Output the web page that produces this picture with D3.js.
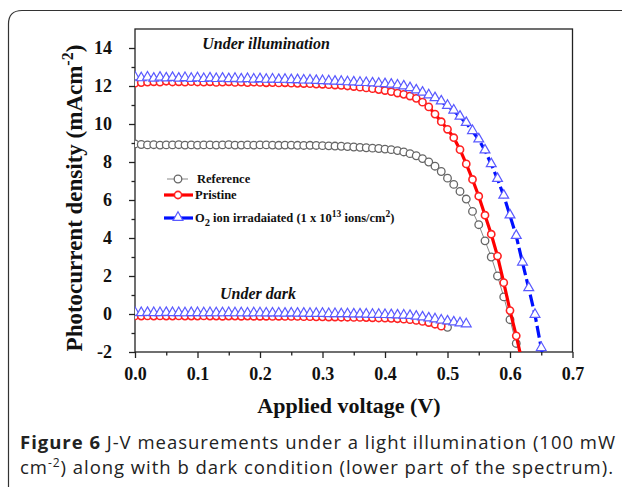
<!DOCTYPE html>
<html>
<head>
<meta charset="utf-8">
<script src="https://cdn.jsdelivr.net/npm/d3@7"></script>
<style>
  body { margin: 0; background: #fff; }
  svg { display: block; }
</style>
</head>
<body>
<svg id="chart" width="622" height="487"></svg>
<script>
// --- data ---

const voltage = [0.00, 0.01, 0.02, 0.03, 0.04, 0.05, 0.06, 0.07, 0.08, 0.09,
  0.10, 0.11, 0.12, 0.13, 0.14, 0.15, 0.16, 0.17, 0.18, 0.19,
  0.20, 0.21, 0.22, 0.23, 0.24, 0.25, 0.26, 0.27, 0.28, 0.29,
  0.30, 0.31, 0.32, 0.33, 0.34, 0.35, 0.36, 0.37, 0.38, 0.39,
  0.40, 0.41, 0.42, 0.43, 0.44, 0.45, 0.46, 0.47, 0.48, 0.49,
  0.50, 0.51, 0.52, 0.53, 0.54, 0.55, 0.56, 0.57, 0.58, 0.59,
  0.60, 0.61, 0.62, 0.63, 0.64, 0.65, 0.66];

// under illumination
const refLight = [8.95, 8.92, 8.90, 8.91, 8.89, 8.90, 8.90, 8.91, 8.89, 8.90,
  8.89, 8.90, 8.90, 8.89, 8.90, 8.91, 8.89, 8.89, 8.90, 8.89,
  8.90, 8.90, 8.89, 8.88, 8.89, 8.89, 8.88, 8.87, 8.88, 8.87,
  8.86, 8.85, 8.84, 8.83, 8.81, 8.79, 8.77, 8.75, 8.73, 8.71,
  8.68, 8.65, 8.60, 8.53, 8.44, 8.33, 8.18, 8.00, 7.78, 7.50,
  7.15, 6.82, 6.45, 6.05, 5.40, 4.70, 3.85, 3.00, 2.00, 0.90,
  -0.30, -1.55];
const pristineLight = [12.15, 12.18, 12.20, 12.22, 12.20, 12.25, 12.21, 12.22, 12.20, 12.23,
  12.21, 12.20, 12.22, 12.19, 12.20, 12.22, 12.19, 12.20, 12.18, 12.20,
  12.19, 12.17, 12.18, 12.16, 12.17, 12.15, 12.14, 12.13, 12.12, 12.10,
  12.09, 12.07, 12.05, 12.03, 12.00, 11.97, 11.94, 11.90, 11.86, 11.81,
  11.76, 11.70, 11.63, 11.56, 11.47, 11.35, 11.15, 10.90, 10.52, 10.12,
  9.72, 9.28, 8.65, 7.90, 7.08, 6.20, 5.20, 4.20, 3.05, 1.65,
  0.18, -1.15, -2.60];
const o2Light = [12.45, 12.40, 12.44, 12.38, 12.43, 12.39, 12.42, 12.38, 12.41, 12.37,
  12.40, 12.36, 12.39, 12.36, 12.38, 12.35, 12.37, 12.34, 12.36, 12.33,
  12.35, 12.32, 12.33, 12.31, 12.32, 12.30, 12.30, 12.28, 12.28, 12.26,
  12.25, 12.24, 12.22, 12.21, 12.19, 12.18, 12.16, 12.15, 12.13, 12.11,
  12.09, 12.06, 12.02, 11.97, 11.88, 11.76, 11.64, 11.50, 11.35, 11.18,
  10.95, 10.70, 10.38, 10.05, 9.62, 9.18, 8.60, 7.88, 7.10, 6.22,
  5.18, 4.10, 2.70, 1.35, -0.05, -1.80, -3.50];

// under dark
const refDark = [-0.04, -0.05, -0.04, -0.05, -0.05, -0.04, -0.05, -0.05, -0.05, -0.06,
  -0.05, -0.06, -0.06, -0.06, -0.06, -0.07, -0.06, -0.07, -0.07, -0.07,
  -0.08, -0.07, -0.08, -0.08, -0.08, -0.09, -0.09, -0.09, -0.10, -0.10,
  -0.10, -0.11, -0.11, -0.12, -0.12, -0.13, -0.13, -0.14, -0.15, -0.16,
  -0.17, -0.19, -0.21, -0.23, -0.26, -0.30, -0.35, -0.41, -0.49, -0.59,
  -0.70];
const pristineDark = [-0.10, -0.11, -0.10, -0.11, -0.10, -0.11, -0.11, -0.10, -0.11, -0.11,
  -0.11, -0.10, -0.11, -0.11, -0.12, -0.11, -0.11, -0.12, -0.11, -0.12,
  -0.12, -0.12, -0.13, -0.12, -0.13, -0.13, -0.13, -0.14, -0.14, -0.15,
  -0.15, -0.16, -0.16, -0.17, -0.17, -0.18, -0.18, -0.19, -0.20, -0.21,
  -0.22, -0.23, -0.25, -0.27, -0.30, -0.34, -0.39, -0.45, -0.54, -0.64];
const o2Dark = [0.05, 0.04, 0.05, 0.04, 0.04, 0.05, 0.04, 0.04, 0.03, 0.04,
  0.04, 0.03, 0.04, 0.03, 0.03, 0.04, 0.03, 0.03, 0.02, 0.03,
  0.03, 0.02, 0.02, 0.02, 0.01, 0.02, 0.01, 0.01, 0.00, 0.00,
  0.00, -0.01, -0.01, -0.02, -0.02, -0.03, -0.03, -0.04, -0.05, -0.05,
  -0.06, -0.07, -0.08, -0.09, -0.11, -0.15, -0.19, -0.24, -0.29, -0.35,
  -0.40, -0.45, -0.50, -0.55];

const xTicks = [0, 0.1, 0.2, 0.3, 0.4, 0.5, 0.6, 0.7];
const xMinor = [0.05, 0.15, 0.25, 0.35, 0.45, 0.55, 0.65];
const yTicks = [-2, 0, 2, 4, 6, 8, 10, 12, 14];
const yMinor = [-1, 1, 3, 5, 7, 9, 11, 13];

const legendLabels = ["Reference", "Pristine", "O2 ion irradaiated"];

// --- drawing ---

const serif = "'Liberation Serif', 'Times New Roman', serif";
const svg = d3.select("#chart");

// outer rounded frame of the figure panel
svg.append("path")
  .attr("d", "M8.5,490 L8.5,24 Q8.5,10.5 22,10.5 L630,10.5")
  .attr("fill", "none").attr("stroke", "#333").attr("stroke-width", 1.2);

const x = d3.scaleLinear().domain([0, 0.7]).range([135, 572.5]);
const y = d3.scaleLinear().domain([-2, 15]).range([352, 29]);

svg.append("clipPath").attr("id", "plotClip").append("rect")
  .attr("x", x(0)).attr("y", y(15)).attr("width", x(0.7) - x(0)).attr("height", y(-2) - y(15));

// axes
const styleAxis = g => {
  g.select(".domain").remove();
  g.selectAll(".tick line").attr("stroke", "#222").attr("stroke-width", 1.3);
  g.selectAll(".tick text").attr("fill", "#111")
    .style("font-family", serif).style("font-weight", "bold").style("font-size", "18px");
};

svg.append("g").attr("transform", `translate(0,${y(-2)})`)
  .call(d3.axisBottom(x).tickValues(xTicks).tickFormat(d3.format(".1f")).tickSize(6).tickPadding(9))
  .call(styleAxis);
svg.append("g").attr("transform", `translate(0,${y(-2)})`)
  .call(d3.axisBottom(x).tickValues(xMinor).tickFormat("").tickSize(3.5))
  .call(styleAxis);
svg.append("g").attr("transform", `translate(${x(0)},0)`)
  .call(d3.axisLeft(y).tickValues(yTicks).tickFormat(d => String(d)).tickSize(6).tickPadding(17))
  .call(styleAxis);
svg.append("g").attr("transform", `translate(${x(0)},0)`)
  .call(d3.axisLeft(y).tickValues(yMinor).tickFormat("").tickSize(3.5))
  .call(styleAxis);

svg.append("rect")
  .attr("x", x(0)).attr("y", y(15)).attr("width", x(0.7) - x(0)).attr("height", y(-2) - y(15))
  .attr("fill", "none").attr("stroke", "#222").attr("stroke-width", 1.3);

// series
const plot = svg.append("g").attr("clip-path", "url(#plotClip)");
const pts = vals => vals.map((v, i) => [voltage[i], v]);
const line = d3.line().x(d => x(d[0])).y(d => y(d[1]));
const tri = d3.symbol().type(d3.symbolTriangle).size(42);

function drawRef(vals) {
  plot.append("path").datum(pts(vals)).attr("d", line)
    .attr("fill", "none").attr("stroke", "#888").attr("stroke-width", 1);
  plot.append("g").selectAll("circle").data(pts(vals)).join("circle")
    .attr("cx", d => x(d[0])).attr("cy", d => y(d[1])).attr("r", 3.8)
    .attr("fill", "#fff").attr("stroke", "#666").attr("stroke-width", 1.3);
}
function drawPristine(vals) {
  plot.append("path").datum(pts(vals)).attr("d", line)
    .attr("fill", "none").attr("stroke", "#f00").attr("stroke-width", 3.2);
  plot.append("g").selectAll("circle").data(pts(vals)).join("circle")
    .attr("cx", d => x(d[0])).attr("cy", d => y(d[1])).attr("r", 3.6)
    .attr("fill", "#fff").attr("stroke", "#f22").attr("stroke-width", 1.6);
}
function drawO2(vals) {
  plot.append("path").datum(pts(vals)).attr("d", line)
    .attr("fill", "none").attr("stroke", "#0010ff").attr("stroke-width", 3.2)
    .attr("stroke-dasharray", "12,4");
  plot.append("g").selectAll("path").data(pts(vals)).join("path")
    .attr("d", tri).attr("transform", d => `translate(${x(d[0])},${y(d[1]) - 0.5})`)
    .attr("fill", "#fff").attr("stroke", "#5a5aff").attr("stroke-width", 1.2);
}

drawRef(refDark);
drawPristine(pristineDark);
drawO2(o2Dark);
drawRef(refLight);
drawPristine(pristineLight);
drawO2(o2Light);

// annotations
svg.append("text").attr("x", 266).attr("y", 49).attr("text-anchor", "middle")
  .style("font-family", serif).style("font-weight", "bold").style("font-style", "italic")
  .style("font-size", "16px").attr("fill", "#111").text("Under illumination");
svg.append("text").attr("x", 258).attr("y", 299).attr("text-anchor", "middle")
  .style("font-family", serif).style("font-weight", "bold").style("font-style", "italic")
  .style("font-size", "16px").attr("fill", "#111").text("Under dark");

// legend
const legY = [179, 195, 218];
const leg = svg.append("g").style("font-family", serif).style("font-weight", "bold")
  .style("font-size", "12.5px").attr("fill", "#111");
leg.append("line").attr("x1", 167).attr("x2", 188).attr("y1", legY[0]).attr("y2", legY[0])
  .attr("stroke", "#888").attr("stroke-width", 1);
leg.append("circle").attr("cx", 178).attr("cy", legY[0]).attr("r", 3.8)
  .attr("fill", "#fff").attr("stroke", "#666").attr("stroke-width", 1.3);
leg.append("line").attr("x1", 164).attr("x2", 193).attr("y1", legY[1]).attr("y2", legY[1])
  .attr("stroke", "#f00").attr("stroke-width", 3.2);
leg.append("circle").attr("cx", 178).attr("cy", legY[1]).attr("r", 3.6)
  .attr("fill", "#fff").attr("stroke", "#f22").attr("stroke-width", 1.6);
leg.append("line").attr("x1", 164).attr("x2", 193).attr("y1", legY[2]).attr("y2", legY[2])
  .attr("stroke", "#0010ff").attr("stroke-width", 3.2);
leg.append("path").attr("d", tri).attr("transform", `translate(178,${legY[2] - 0.5})`)
  .attr("fill", "#fff").attr("stroke", "#5a5aff").attr("stroke-width", 1.2);

leg.append("text").attr("x", 197).attr("y", legY[0] + 4).text(legendLabels[0]);
leg.append("text").attr("x", 195).attr("y", legY[1] + 4).text(legendLabels[1]);
const t3 = leg.append("text").attr("x", 195).attr("y", legY[2] + 4);
t3.append("tspan").text("O");
t3.append("tspan").attr("dy", 4).style("font-size", "10.5px").text("2");
t3.append("tspan").attr("dy", -4).text(" ion irradaiated (1 x 10");
t3.append("tspan").attr("dy", -5).style("font-size", "9.5px").text("13");
t3.append("tspan").attr("dy", 5).text(" ions/cm");
t3.append("tspan").attr("dy", -5).style("font-size", "9.5px").text("2");
t3.append("tspan").attr("dy", 5).text(")");

// axis titles
svg.append("text").attr("x", 349).attr("y", 413).attr("text-anchor", "middle")
  .style("font-family", serif).style("font-weight", "bold").style("font-size", "22px")
  .attr("fill", "#111").text("Applied voltage (V)");

const yt = svg.append("text").attr("transform", "translate(82,198) rotate(-90)")
  .attr("text-anchor", "middle")
  .style("font-family", serif).style("font-weight", "bold").style("font-size", "23px")
  .attr("fill", "#111");
yt.append("tspan").text("Photocurrent density (mAcm");
yt.append("tspan").attr("dy", -9).style("font-size", "16px").text("-2");
yt.append("tspan").attr("dy", 9).text(")");

// caption
const cap = svg.append("g").style("font-family", "'Open Sans', 'DejaVu Sans', sans-serif")
  .style("font-size", "18.5px").attr("fill", "#222");
const c1 = cap.append("text").attr("x", 20).attr("y", 449)
  .attr("textLength", 595).attr("lengthAdjust", "spacing");
c1.append("tspan").style("font-weight", "bold").text("Figure 6");
c1.append("tspan").text(" J-V measurements under a light illumination (100 mW");
const c2 = cap.append("text").attr("x", 20).attr("y", 474)
  .attr("textLength", 593).attr("lengthAdjust", "spacing");
c2.append("tspan").text("cm");
c2.append("tspan").attr("dy", -7).style("font-size", "12px").text("-2");
c2.append("tspan").attr("dy", 7).text(") along with b dark condition (lower part of the spectrum).");
</script>
</body>
</html>
